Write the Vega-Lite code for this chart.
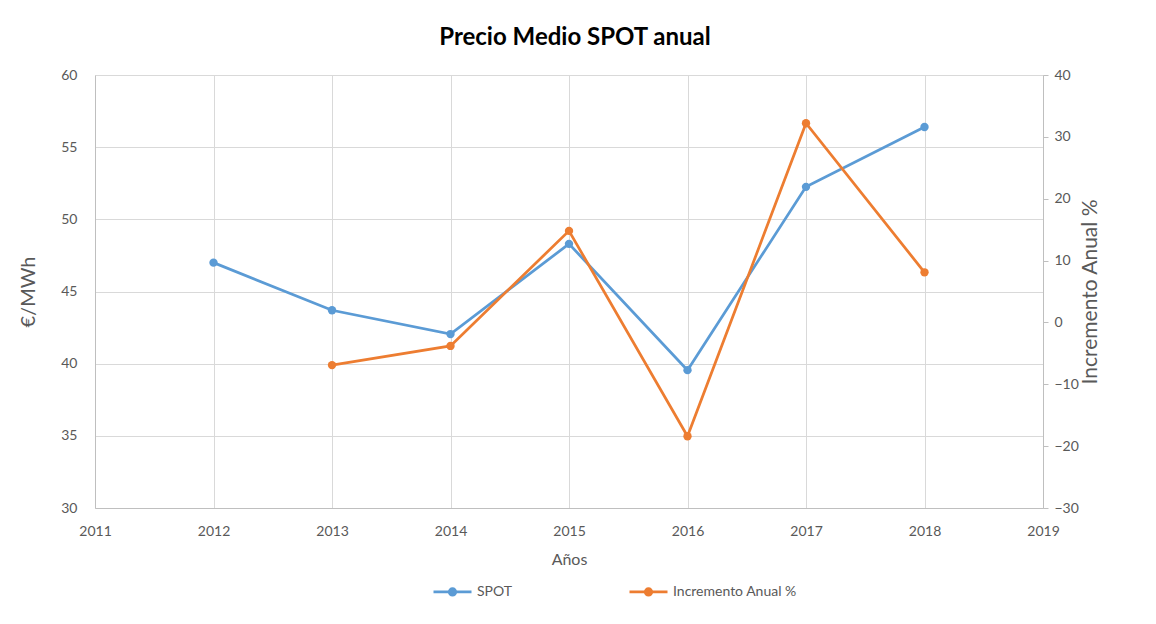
{
  "$schema": "https://vega.github.io/schema/vega-lite/v6.json",
  "autosize": {"type": "none"},
  "width": 948,
  "height": 433,
  "padding": {"left": 95, "top": 75, "right": 113, "bottom": 116},
  "background": "white",
  "title": {"text": "Precio Medio SPOT anual", "fontSize": 24, "font": "Lato", "fontWeight": "bold", "color": "#000000", "offset": 18, "anchor": "middle", "dx": 6},
  "config": {
    "view": {"stroke": null},
    "axis": {"labelFont": "Lato", "titleFont": "Lato", "labelColor": "#595959", "titleColor": "#595959", "labelFontSize": 14, "gridColor": "#d9d9d9", "domainColor": "#bfbfbf", "tickColor": "#bfbfbf", "titleFontWeight": "normal"},
    "legend": {"labelFont": "Lato", "labelFontSize": 14, "labelColor": "#595959"}
  },
  "data": {"values": [
    {"year": 2012, "spot": 47.0, "incr": null},
    {"year": 2013, "spot": 43.7, "incr": -6.9},
    {"year": 2014, "spot": 42.05, "incr": -3.8},
    {"year": 2015, "spot": 48.3, "incr": 14.8},
    {"year": 2016, "spot": 39.55, "incr": -18.4},
    {"year": 2017, "spot": 52.25, "incr": 32.2},
    {"year": 2018, "spot": 56.4, "incr": 8.1}
  ]},
  "encoding": {
    "x": {"field": "year", "type": "quantitative", "scale": {"domain": [2011, 2019], "nice": false, "zero": false},
      "axis": {"title": "Años", "titleFontSize": 16, "format": "d", "values": [2011,2012,2013,2014,2015,2016,2017,2018,2019], "ticks": false, "labelPadding": 16, "titlePadding": 13, "grid": true, "labelFlush": false, "labelBound": false, "labelOverlap": false}}
  },
  "layer": [
    {
      "mark": {"type": "line", "strokeWidth": 2.75, "point": {"filled": true, "size": 70}},
      "encoding": {
        "y": {"field": "spot", "type": "quantitative", "scale": {"domain": [30, 60], "nice": false, "zero": false},
          "axis": {"title": "€/MWh", "titleFontSize": 20, "values": [30,35,40,45,50,55,60], "ticks": false, "labelPadding": 18, "titlePadding": 22, "grid": true}},
        "color": {"datum": "SPOT", "type": "nominal",
          "scale": {"domain": ["SPOT", "Incremento Anual %"], "range": ["#5B9BD5", "#ED7D31"]},
          "legend": {"title": null, "orient": "none", "legendX": 337, "legendY": 496, "direction": "horizontal",
            "symbolType": "M-1,0L1,0M-0.17,0A0.17,0.17 0 1,0 0.17,0A0.17,0.17 0 1,0 -0.17,0Z",
            "symbolSize": 1444, "symbolStrokeWidth": 2.75, "columnPadding": 111, "labelOffset": 4,
            "encode": {"symbols": {"update": {"fill": {"scale": "color", "field": "value"}, "stroke": {"scale": "color", "field": "value"}}}}}}
      }
    },
    {
      "mark": {"type": "line", "strokeWidth": 2.75, "point": {"filled": true, "size": 70}},
      "encoding": {
        "y": {"field": "incr", "type": "quantitative", "scale": {"domain": [-30, 40], "nice": false, "zero": false},
          "axis": {"orient": "right", "title": "Incremento Anual %", "titleFontSize": 21, "titleAngle": -90, "values": [-30,-20,-10,0,10,20,30,40], "ticks": true, "tickSize": 5, "labelPadding": 6, "titlePadding": 22, "grid": false}},
        "color": {"datum": "Incremento Anual %", "type": "nominal"}
      }
    }
  ],
  "resolve": {"scale": {"y": "independent"}}
}
